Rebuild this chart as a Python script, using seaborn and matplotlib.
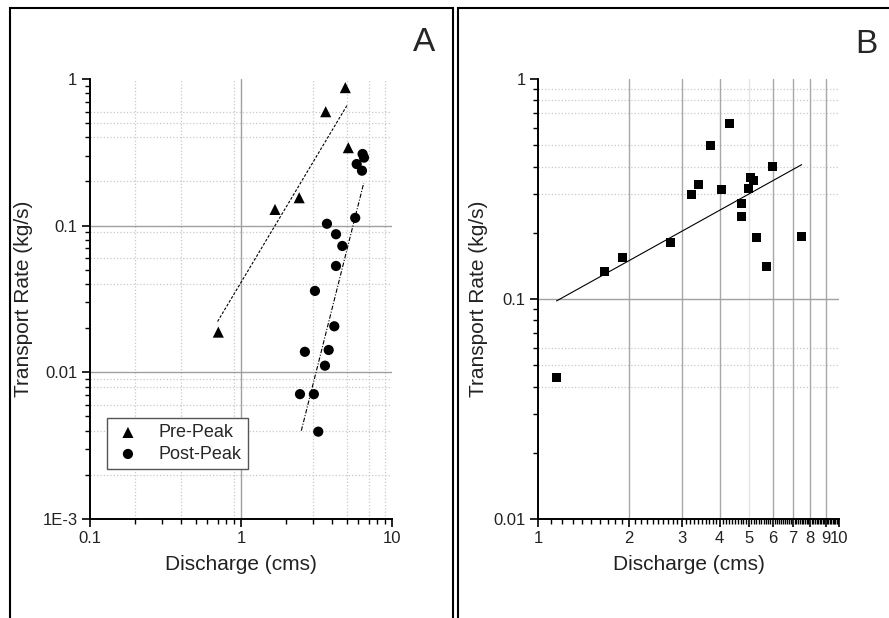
import numpy as np
import pandas as pd
import seaborn as sns
import matplotlib.pyplot as plt
from matplotlib.patches import Rectangle
from matplotlib.ticker import NullFormatter

# Panel A - pre-peak (triangles)
pre_q    = [0.708, 1.68, 2.43, 3.64, 4.91, 5.14]
pre_rate = [0.0188, 0.129, 0.155, 0.598, 0.873, 0.340]

# Panel A - post-peak (circles)
post_q    = [2.46, 3.04, 3.25, 2.65, 3.60, 3.81, 4.15, 3.09, 4.26,
             4.69, 4.26, 3.71, 5.71, 5.84, 6.33, 6.39, 6.53]
post_rate = [0.0071, 0.0071, 0.00394, 0.0138, 0.0111, 0.0142, 0.0206, 0.0359, 0.0531,
             0.0727, 0.0874, 0.103, 0.113, 0.263, 0.237, 0.308, 0.291]

# fitted power-law lines as drawn in the figure (end points)
pre_fit_q     = [0.70, 5.09]
pre_fit_rate  = [0.0222, 0.672]
post_fit_q    = [2.51, 6.50]
post_fit_rate = [0.0040, 0.195]

# Panel B - all samples (squares)
b_q    = [1.15, 1.66, 1.91, 2.75, 3.22, 3.40, 3.74, 4.05, 4.31,
          4.73, 4.75, 4.98, 5.08, 5.18, 5.29, 5.71, 5.98, 7.48]
b_rate = [0.0439, 0.134, 0.155, 0.180, 0.298, 0.331, 0.501, 0.314, 0.626,
          0.271, 0.238, 0.319, 0.355, 0.347, 0.191, 0.141, 0.402, 0.192]
b_fit_q    = [1.15, 7.5]
b_fit_rate = [0.098, 0.408]

# tick / grid values
a_xticks = [0.1, 1, 10]
a_xlabels = ['0.1', '1', '10']
a_yticks = [0.001, 0.01, 0.1, 1]
a_ylabels = ['1E-3', '0.01', '0.1', '1']
a_major_x = [1]
a_major_y = [0.1, 0.01]
a_minor_x = [0.2, 0.4, 0.9, 3, 5, 7, 9]
a_minor_y = [0.6, 0.5, 0.4, 0.2, 0.09, 0.06, 0.04, 0.009, 0.008, 0.006, 0.004, 0.002]

b_xticks = [1, 2, 3, 4, 5, 6, 7, 8, 9, 10]
b_xlabels = ['1', '2', '3', '4', '5', '6', '7', '8', '9', '10']
b_yticks = [0.01, 0.1, 1]
b_ylabels = ['0.01', '0.1', '1']
b_major_x = [2, 3, 4, 6, 7, 8, 9]
b_faint_x = [5]
b_major_y = [0.1]
b_minor_y = [0.9, 0.8, 0.7, 0.5, 0.4, 0.3, 0.06, 0.05, 0.04]

pre = pd.DataFrame({'Discharge': pre_q, 'Rate': pre_rate})
post = pd.DataFrame({'Discharge': post_q, 'Rate': post_rate})
dfb = pd.DataFrame({'Discharge': b_q, 'Rate': b_rate})

sns.set_theme(style='white')
plt.rcParams['font.family'] = ['Liberation Sans', 'DejaVu Sans']

fig = plt.figure(figsize=(8.89, 6.18), dpi=100)
axA = fig.add_axes([0.1012, 0.1602, 0.3397, 0.712])
axB = fig.add_axes([0.6055, 0.1602, 0.3386, 0.712])


def style_axes(ax):
    for s in ['top', 'right']:
        ax.spines[s].set_visible(False)
    for s in ['left', 'bottom']:
        ax.spines[s].set_color('black')
        ax.spines[s].set_linewidth(1.4)
    ax.tick_params(which='major', direction='out', length=6, width=1.2, color='black',
                   labelsize=12, labelcolor='#222222', pad=3, left=True, bottom=True)
    ax.tick_params(which='minor', direction='out', length=3.5, width=1.0, color='black',
                   left=True, bottom=True)
    ax.set_xlabel('Discharge (cms)', fontsize=15, color='#222222', labelpad=6)


# ---------- panel A ----------
axA.set_xscale('log')
axA.set_yscale('log')
axA.set_xlim(0.1, 10)
axA.set_ylim(0.001, 1)
for v in a_minor_x:
    axA.axvline(v, color='#c8c8c8', lw=0.9, ls=':', zorder=0)
for v in a_minor_y:
    axA.axhline(v, color='#c8c8c8', lw=0.9, ls=':', zorder=0)
for v in a_major_x:
    axA.axvline(v, color='#a0a0a0', lw=1.0, zorder=0.5)
for v in a_major_y:
    axA.axhline(v, color='#a0a0a0', lw=1.0, zorder=0.5)

sns.lineplot(x=pre_fit_q, y=pre_fit_rate, ax=axA, color='black', lw=0.8,
             dashes=False, linestyle=(0, (2.5, 1.5)))
sns.lineplot(x=post_fit_q, y=post_fit_rate, ax=axA, color='black', lw=0.8,
             dashes=False, linestyle=(0, (4, 1.5, 1, 1.5)))
sns.scatterplot(data=pre, x='Discharge', y='Rate', ax=axA, marker='^', s=64,
                color='black', edgecolor='none', label='Pre-Peak', zorder=3)
sns.scatterplot(data=post, x='Discharge', y='Rate', ax=axA, marker='o', s=54,
                color='black', edgecolor='none', label='Post-Peak', zorder=3)

axA.set_xticks(a_xticks, a_xlabels)
axA.set_yticks(a_yticks, a_ylabels)
axA.xaxis.set_minor_formatter(NullFormatter())
axA.yaxis.set_minor_formatter(NullFormatter())
style_axes(axA)
axA.set_ylabel('Transport Rate (kg/s)', fontsize=15, color='#222222', labelpad=7)

leg = axA.legend(loc='lower left', bbox_to_anchor=(0.057, 0.1136), borderaxespad=0,
                 fontsize=13, frameon=True, fancybox=False, edgecolor='#555555',
                 framealpha=1, handletextpad=0.9, borderpad=0.35, labelspacing=0.25,
                 handlelength=1.6)
leg.get_frame().set_linewidth(1.0)

# ---------- panel B ----------
axB.set_xscale('log')
axB.set_yscale('log')
axB.set_xlim(1, 10)
axB.set_ylim(0.01, 1)
for v in b_minor_y:
    axB.axhline(v, color='#c8c8c8', lw=0.9, ls=':', zorder=0)
for v in b_faint_x:
    axB.axvline(v, color='#e4e4e4', lw=1.0, zorder=0.5)
for v in b_major_x:
    axB.axvline(v, color='#a8a8a8', lw=1.0, zorder=0.5)
for v in b_major_y:
    axB.axhline(v, color='#a0a0a0', lw=1.0, zorder=0.5)

sns.lineplot(x=b_fit_q, y=b_fit_rate, ax=axB, color='black', lw=0.8)
sns.scatterplot(data=dfb, x='Discharge', y='Rate', ax=axB, marker='s', s=42,
                color='black', edgecolor='none', zorder=3)

axB.set_xticks(b_xticks, b_xlabels)
axB.set_xticks(np.arange(1.1, 10.0, 0.1), minor=True)
axB.set_yticks(b_yticks, b_ylabels)
axB.xaxis.set_minor_formatter(NullFormatter())
axB.yaxis.set_minor_formatter(NullFormatter())
style_axes(axB)
axB.set_ylabel('Transport Rate (kg/s)', fontsize=15, color='#222222', labelpad=4)

# panel letters and frames
fig.text(424 / 889, 1 - 42.5 / 618, 'A', fontsize=24, ha='center', va='center')
fig.text(866 / 889, 1 - 44.5 / 618, 'B', fontsize=24, ha='center', va='center')
fig.add_artist(Rectangle((10 / 889, -0.05), 443 / 889, 1.05 - 7.5 / 618,
                         transform=fig.transFigure, fill=False, lw=1.5, ec='black'))
fig.add_artist(Rectangle((457.5 / 889, -0.05), 0.6, 1.05 - 7.5 / 618,
                         transform=fig.transFigure, fill=False, lw=1.5, ec='black'))

fig.savefig('out.png', dpi=100)
